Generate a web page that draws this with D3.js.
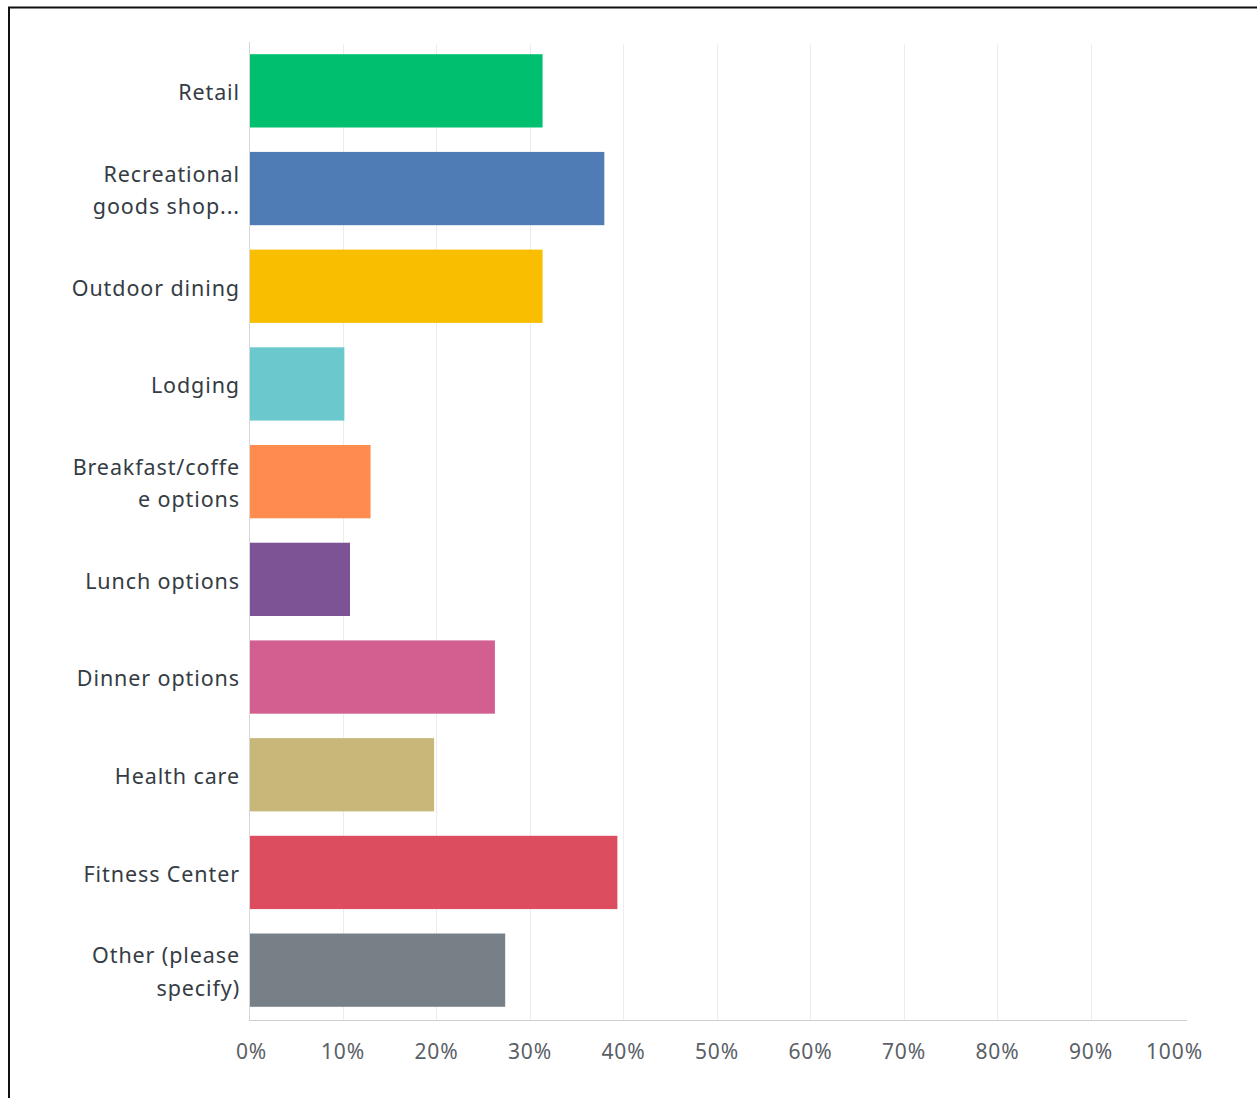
<!DOCTYPE html>
<html>
<head>
<meta charset="utf-8">
<script src="https://cdn.jsdelivr.net/npm/d3@7"></script>
<style>
  html, body { margin: 0; padding: 0; background: #fff; }
  svg { display: block; }
</style>
</head>
<body>
<svg id="chart" width="1257" height="1098"></svg>
<script>
// Answer choices (line breaks mark where the label wraps)
const categories = [
  "Retail",
  "Recreational\ngoods shop...",
  "Outdoor dining",
  "Lodging",
  "Breakfast/coffe\ne options",
  "Lunch options",
  "Dinner options",
  "Health care",
  "Fitness Center",
  "Other (please\nspecify)"
];
// Share of respondents, in percent
const values = [31.4, 38.0, 31.4, 10.2, 13.0, 10.8, 26.3, 19.8, 39.4, 27.4];
const barColors = ["#00bf6f", "#507cb6", "#f9be00", "#6bc8cd", "#ff8b4f",
                   "#7d5396", "#d25f90", "#c7b879", "#dc4d5f", "#768086"];
const tickValues = [0, 10, 20, 30, 40, 50, 60, 70, 80, 90, 100];
const tickLabels = ["0%", "10%", "20%", "30%", "40%", "50%", "60%", "70%", "80%", "90%", "100%"];

const svg = d3.select("#chart");
const font = "'Noto Sans', 'Open Sans', sans-serif";

// Outer frame (top and left edges)
svg.append("line").attr("x1", 8).attr("x2", 1257).attr("y1", 7.5).attr("y2", 7.5)
  .attr("stroke", "#111").attr("stroke-width", 2);
svg.append("line").attr("x1", 9).attr("x2", 9).attr("y1", 7).attr("y2", 1098)
  .attr("stroke", "#111").attr("stroke-width", 2);

const x = d3.scaleLinear().domain([0, 100]).range([249, 1184]);
const y = d3.scaleBand().domain(categories).range([42, 1019]).paddingInner(0.25).paddingOuter(0.125);

const axisY = 1020.5;

// Vertical gridlines
svg.append("g")
  .selectAll("line")
  .data(tickValues.slice(1, 10))
  .join("line")
  .attr("x1", d => Math.round(x(d)) + 0.5)
  .attr("x2", d => Math.round(x(d)) + 0.5)
  .attr("y1", 44)
  .attr("y2", axisY)
  .attr("stroke", "#ececec")
  .attr("stroke-width", 1);

// Left baseline
svg.append("line")
  .attr("x1", x(0) + 0.5).attr("x2", x(0) + 0.5)
  .attr("y1", 42).attr("y2", axisY)
  .attr("stroke", "#d6d6d6");

// Bars
svg.append("g")
  .selectAll("rect")
  .data(categories)
  .join("rect")
  .attr("x", x(0) + 1)
  .attr("y", d => y(d))
  .attr("width", (d, i) => x(values[i]) - x(0) - 1)
  .attr("height", y.bandwidth())
  .attr("fill", (d, i) => barColors[i]);

// Bottom axis
const xAxis = d3.axisBottom(x)
  .tickValues(tickValues)
  .tickFormat((d, i) => tickLabels[i])
  .tickSize(0)
  .tickPadding(24);
const gx = svg.append("g").attr("transform", `translate(0,${axisY})`).call(xAxis);
gx.select(".domain").attr("stroke", "#cfcfcf").attr("d", `M${x(0)},0H${x(100) + 3}`);
gx.selectAll("text")
  .attr("font-family", font)
  .attr("font-size", 21)
  .attr("letter-spacing", "0.9px")
  .attr("fill", "#5a6066");
gx.selectAll(".tick").filter(d => d === 0).select("text").attr("dx", 2);
gx.selectAll(".tick").filter(d => d === 100).select("text").attr("dx", -10);

// Category labels, right-aligned against the bars
const labels = svg.append("g")
  .selectAll("text")
  .data(categories)
  .join("text")
  .attr("text-anchor", "end")
  .attr("font-family", font)
  .attr("font-size", 21.5)
  .attr("letter-spacing", "0.9px")
  .attr("fill", "#353c44")
  .attr("transform", d => `translate(240,${y(d) + y.bandwidth() / 2 + 1.5})`);

labels.each(function(d) {
  const lines = d.split("\n");
  const lh = 32.5;
  const t = d3.select(this);
  lines.forEach((ln, k) => {
    t.append("tspan")
      .attr("x", 0)
      .attr("y", (k - (lines.length - 1) / 2) * lh)
      .attr("dy", "0.36em")
      .text(ln);
  });
});
</script>
</body>
</html>
